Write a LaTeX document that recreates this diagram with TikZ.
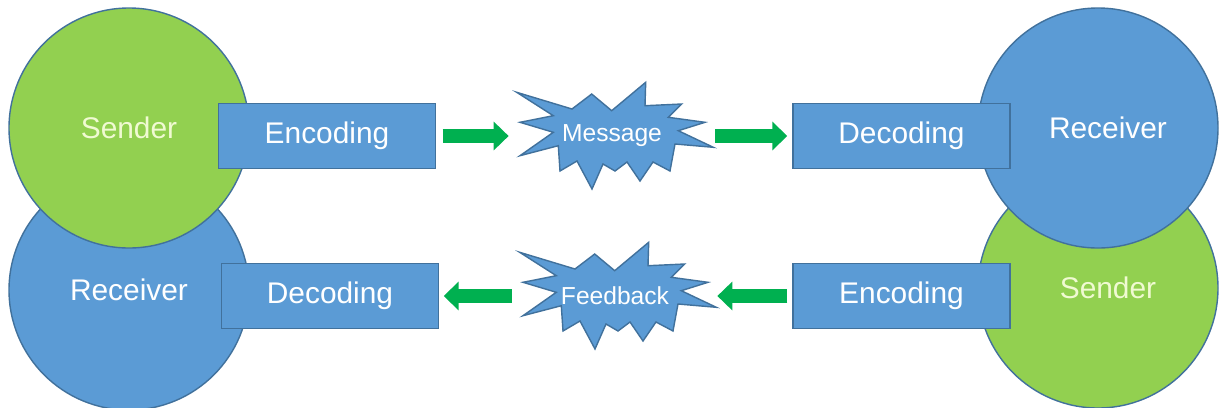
\documentclass[tikz,border=0pt]{standalone}
\usepackage{fontspec}
\setmainfont{Liberation Sans}
\usetikzlibrary{arrows.meta}
\definecolor{fillblue}{HTML}{5B9BD5}
\definecolor{edgeblue}{HTML}{41719C}
\definecolor{fillgreen}{HTML}{92D050}
\definecolor{arrowgreen}{HTML}{00B050}
\definecolor{sendtext}{HTML}{F0FAD2}
% explosion outline round a centre given in picture units
\newcommand{\burst}[2]{\draw [burst, shift={(#1,#2)}] (-9.53,4.37) -- (-4.0,2.7) -- (-2.03,4.2) -- (-0.03,2.53) -- (3.37,5.37) -- (3.3,3.03) -- (6.97,3.2) -- (5.63,1.87) -- (9.3,1.37) -- (6.63,0.53) -- (10.13,-1.13) -- (6.3,-0.8) -- (5.8,-3.5) -- (4.1,-2.6) -- (2.8,-4.5) -- (1.5,-2.6) -- (0.3,-3.5) -- (-0.9,-2.8) -- (-2.0,-5.3) -- (-3.5,-2.5) -- (-5.2,-3.5) -- (-5.37,-0.97) -- (-9.2,-1.97) -- (-5.87,0.37) -- (-9.2,1.37) -- (-5.87,2.03) -- cycle;}

\begin{document}
\begin{tikzpicture}[scale=0.2,
  party/.style={circle, draw=edgeblue, line width=0.8pt, minimum size=4.8cm, inner sep=0pt, font=\fontsize{17}{20}\selectfont},
  receiver/.style={party, fill=fillblue, text=white},
  sender/.style={party, fill=fillgreen, text=sendtext},
  coder/.style={rectangle, draw=edgeblue, line width=0.8pt, fill=fillblue, text=white, minimum width=4.34cm, minimum height=1.3cm, inner sep=0pt, font=\fontsize{17}{20}\selectfont},
  burst/.style={draw=edgeblue, line width=0.8pt, fill=fillblue},
  content/.style={minimum width=4cm, inner sep=0pt, text=white, font=\fontsize{14}{17}\selectfont},
  flow/.style={arrowgreen, line width=0.27cm, -{Triangle[length=0.3cm, width=0.56cm]}}]
\useasboundingbox (0,0) rectangle (121.9,-40.7);
% left pair
\node [receiver] (recL) at (12.9,-29.0) {Receiver};
\node [sender] (sndL) at (12.9,-12.8) {Sender};
\node [coder] (encL) at (32.7,-13.6) {Encoding};
\node [coder] (decL) at (33.0,-29.6) {Decoding};
% right pair
\node [sender] (sndR) at (109.8,-28.8) {\hspace*{0.4cm}Sender};
\node [receiver] (recR) at (109.8,-12.8) {\hspace*{0.4cm}Receiver};
\node [coder] (decR) at (90.15,-13.6) {Decoding};
\node [coder] (encR) at (90.15,-29.6) {Encoding};
% what travels
\burst{61.2}{-13.6}
\node [content] (msg) at (61.2,-13.6) {Message};
\burst{61.5}{-29.6}
\node [content] (fb) at (61.5,-29.6) {Feedback};
% arrows
\draw [flow, shorten <=0.13cm, shorten >=0.06cm] (encL.east) -- (msg.west);
\draw [flow, shorten <=0.06cm, shorten >=0.1cm] (msg.east) -- (decR.west);
\draw [flow, shorten <=0.1cm, shorten >=0.04cm] (encR.west) -- (fb.east);
\draw [flow, shorten <=0.06cm, shorten >=0.09cm] (fb.west) -- (decL.east);
\end{tikzpicture}
\end{document}
